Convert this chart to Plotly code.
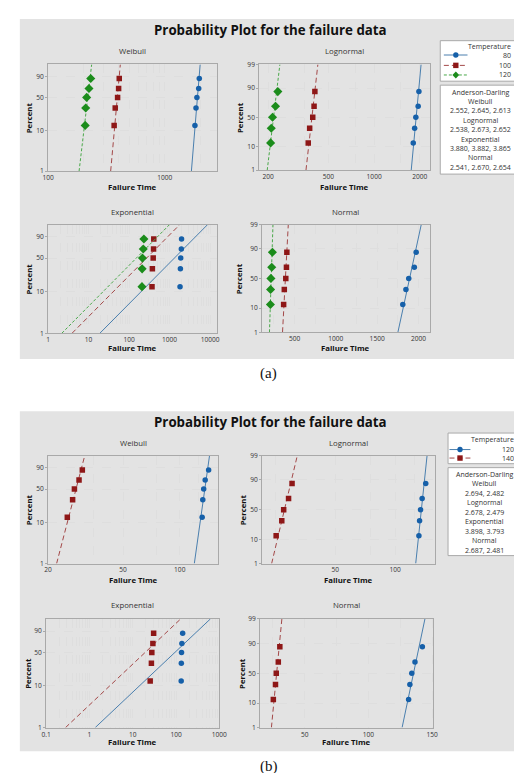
import math
import numpy as np
import plotly.graph_objects as go
from statistics import NormalDist

W, H = 522, 773
FONT = "Open Sans"

# ---------------- data ----------------
percent = [12.96, 31.48, 50.0, 68.52, 87.04]

temps_a = ["80", "100", "120"]
fail_a_80 = [1810, 1848, 1882, 1950, 1972]
fail_a_100 = [368, 376, 394, 402, 407]
fail_a_120 = [208, 210, 214, 224, 232]

temps_b = ["120", "140"]
fail_b_120 = [131.5, 132.5, 134.0, 136.5, 142.3]
fail_b_140 = [25.3, 27.0, 27.6, 29.2, 30.4]

dist_names = ["Weibull", "Lognormal", "Exponential", "Normal"]

ad_a_weibull = [2.552, 2.645, 2.613]
ad_a_lognormal = [2.538, 2.673, 2.652]
ad_a_exponential = [3.880, 3.882, 3.865]
ad_a_normal = [2.541, 2.670, 2.654]
ad_b_weibull = [2.694, 2.482]
ad_b_lognormal = [2.678, 2.479]
ad_b_exponential = [3.898, 3.793]
ad_b_normal = [2.687, 2.481]

pct_ticks_wb = [1, 10, 50, 90]
pct_ticks_nm = [1, 10, 50, 90, 99]

minor_decades_a = [m * 10 ** e for e in range(0, 4) for m in range(2, 10)]
minor_decades_b = [m * 10 ** e for e in range(-1, 3) for m in range(2, 10)]

xlab_a_wb = [100, 1000]
xgrid_a_wb = [200, 300, 400, 500, 600, 700, 800, 900, 2000]
xlab_a_ln = [200, 500, 1000, 2000]
xgrid_a_ln = [350, 750, 1500]
xlab_a_ex = [1, 10, 100, 1000, 10000]
xlab_a_nm = [500, 1000, 1500, 2000]
xgrid_a_nm = [250, 750, 1250, 1750]

xlab_b_wb = [20, 50, 100]
xgrid_b_wb = [35, 75, 125]
xlab_b_ln = [50, 100]
xgrid_b_ln = [25, 75, 125]
xlab_b_ex = [0.1, 1, 10, 100, 1000]
xlab_b_nm = [50, 100, 150]
xgrid_b_nm = [25, 75, 125]

# ---------------- styles ----------------
GREY_BG = "#e3e3e3"
FRAME = "#a9a9a9"
GRID = "#dedede"
TXT = "#333333"
BLUE_M, BLUE_L = "#1660a9", "#4a7fae"
RED_M, RED_L = "#8e1717", "#a34848"
GREEN_M, GREEN_L = "#1b8c1b", "#4aa84a"

group_style = {
    "blue": dict(mc=BLUE_M, lc=BLUE_L, sym="circle", size=5.5, dash="solid"),
    "red": dict(mc=RED_M, lc=RED_L, sym="square", size=5.5, dash="5px,3px"),
    "green": dict(mc=GREEN_M, lc=GREEN_L, sym="diamond", size=7, dash="3px,2px"),
}

nd = NormalDist()


def y_wb(p):
    return math.log(-math.log(1 - p / 100.0))


def y_nm(p):
    return nd.inv_cdf(p / 100.0)


def weibull_mle(t):
    t = np.asarray(t, float)
    lt = np.log(t)
    s = t / t.max()

    def f(k):
        sk = s ** k
        return (sk * lt).sum() / sk.sum() - 1.0 / k - lt.mean()

    lo, hi = 0.05, 3000.0
    for _ in range(200):
        mid = 0.5 * (lo + hi)
        if f(mid) > 0:
            hi = mid
        else:
            lo = mid
    k = 0.5 * (lo + hi)
    lam = t.max() * np.mean(s ** k) ** (1.0 / k)
    return k, lam


def fit_x(dist, t, ys):
    t = np.asarray(t, float)
    if dist == "Weibull":
        k, lam = weibull_mle(t)
        return [lam * math.exp(y / k) for y in ys]
    if dist == "Lognormal":
        mu, sg = np.log(t).mean(), np.log(t).std()
        return [math.exp(mu + sg * y) for y in ys]
    if dist == "Exponential":
        th = t.mean()
        return [th * math.exp(y) for y in ys]
    mu, sd = t.mean(), t.std()
    return [mu + sd * y for y in ys]


def PX(x):
    return x / W


def PY(y):
    return 1 - y / H


groups_a = [(temps_a[0], fail_a_80, "blue"), (temps_a[1], fail_a_100, "red"), (temps_a[2], fail_a_120, "green")]
groups_b = [(temps_b[0], fail_b_120, "blue"), (temps_b[1], fail_b_140, "red")]

subplots = [
    ("Weibull", (35, 209, 52, 160), ("log", [2.0, 3.45], xlab_a_wb, xgrid_a_wb), groups_a, 38, 176, 15),
    ("Lognormal", (252, 427, 52, 159), ("log", [2.243, 3.365], xlab_a_ln, xgrid_a_ln), groups_a, 38, 176, 232),
    ("Exponential", (35, 209, 214, 324), ("log", [0.0, 4.18], xlab_a_ex, minor_decades_a), groups_a, 201, 339, 15),
    ("Normal", (255, 427, 214, 323), ("linear", [108, 2134], xlab_a_nm, xgrid_a_nm), groups_a, 201, 339, 232),
    ("Weibull", (35, 210, 448, 557), ("log", [1.301, 2.205], xlab_b_wb, xgrid_b_wb), groups_b, 435, 574, 15),
    ("Lognormal", (255, 433, 448, 557), ("log", [1.333, 2.2015], xlab_b_ln, xgrid_b_ln), groups_b, 435, 574, 235),
    ("Exponential", (33, 211, 613, 723), ("log", [-1.0, 3.0], xlab_b_ex, minor_decades_b), groups_b, 599, 738, 15),
    ("Normal", (253, 431, 613, 723), ("linear", [15, 151], xlab_b_nm, xgrid_b_nm), groups_b, 599, 738, 235),
]

fig = go.Figure()
layout = dict(width=W, height=H, margin=dict(l=0, r=0, t=0, b=0), paper_bgcolor="white",
              plot_bgcolor="white", showlegend=False, shapes=[], annotations=[])

tickfont = dict(family=FONT, size=6.6, color=TXT)

for i, (dist, (x0, x1, y0, y1), (xtype, xr, xlab, xgrid), groups, ty, xty, ytx) in enumerate(subplots, start=1):
    sfx = "" if i == 1 else str(i)
    tf = y_wb if dist in ("Weibull", "Exponential") else y_nm
    pticks = pct_ticks_wb if dist in ("Weibull", "Exponential") else pct_ticks_nm
    yr = [tf(1), tf(99)]
    xvals = list(xlab) + list(xgrid)
    xtext = [f"{v:g}" for v in xlab] + ["" for _ in xgrid]
    layout["xaxis" + sfx] = dict(
        domain=[PX(x0), PX(x1)], anchor="y" + sfx, type=xtype, range=xr,
        tickmode="array", tickvals=xvals, ticktext=xtext, showgrid=True,
        gridcolor=GRID, griddash="dash", gridwidth=1, showline=True, mirror=True,
        linecolor=FRAME, linewidth=1, ticks="", tickfont=tickfont, zeroline=False,
        fixedrange=True)
    layout["yaxis" + sfx] = dict(
        domain=[PY(y1), PY(y0)], anchor="x" + sfx, type="linear", range=yr,
        tickmode="array", tickvals=[tf(p) for p in pticks], ticktext=[f"{p:g}" for p in pticks],
        showgrid=True, gridcolor=GRID, griddash="dash", gridwidth=1, showline=True, mirror=True,
        linecolor=FRAME, linewidth=1, ticks="outside", ticklen=2, tickcolor=FRAME,
        tickfont=tickfont, zeroline=False, fixedrange=True)
    for name, times, key in groups:
        st = group_style[key]
        fig.add_trace(go.Scatter(
            x=fit_x(dist, times, yr), y=yr, mode="lines", xaxis="x" + sfx, yaxis="y" + sfx,
            line=dict(color=st["lc"], width=1, dash=st["dash"]), hoverinfo="skip", name=name))
        fig.add_trace(go.Scatter(
            x=times, y=[tf(p) for p in percent], mode="markers", xaxis="x" + sfx, yaxis="y" + sfx,
            marker=dict(color=st["mc"], symbol=st["sym"], size=st["size"], line=dict(width=0)), name=name))
    xc = (x0 + x1) / 2
    layout["annotations"] += [
        dict(text=dist, x=PX(xc), y=PY(ty), xref="paper", yref="paper", showarrow=False,
             font=dict(family=FONT, size=7.8, color=TXT), xanchor="center", yanchor="middle"),
        dict(text="<b>Failure Time</b>", x=PX(xc), y=PY(xty), xref="paper", yref="paper", showarrow=False,
             font=dict(family=FONT, size=7.8, color="#111"), xanchor="center", yanchor="middle"),
        dict(text="<b>Percent</b>", x=PX(ytx), y=PY((y0 + y1) / 2), xref="paper", yref="paper",
             showarrow=False, textangle=-90, font=dict(family=FONT, size=7.8, color="#111"),
             xanchor="center", yanchor="middle"),
    ]

for (gx0, gx1, gy0, gy1) in [(6, 521, 6, 350), (6, 521, 403, 747)]:
    layout["shapes"].append(dict(type="rect", xref="paper", yref="paper", layer="below",
                                 x0=PX(gx0), x1=PX(gx1), y0=PY(gy1), y1=PY(gy0),
                                 fillcolor=GREY_BG, line=dict(width=0)))

for ty in (17, 414):
    layout["annotations"].append(dict(text="<b>Probability Plot for the failure data</b>", x=PX(264), y=PY(ty),
                                      xref="paper", yref="paper", showarrow=False, xanchor="center",
                                      yanchor="middle", font=dict(family=FONT, size=13.3, color="#111")))
for cap, cy in (("(a)", 365), ("(b)", 762)):
    layout["annotations"].append(dict(text=cap, x=PX(262), y=PY(cy), xref="paper", yref="paper",
                                      showarrow=False, xanchor="center", yanchor="middle",
                                      font=dict(family="Liberation Serif", size=15, color="#111")))


def box(x0, x1, y0, y1):
    return dict(type="rect", xref="paper", yref="paper", layer="above", x0=PX(x0), x1=PX(x1),
                y0=PY(y1), y1=PY(y0), fillcolor="white", line=dict(color=FRAME, width=1))


def sample(xl, xr, xm, yc, key):
    st = group_style[key]
    shp = [dict(type="line", xref="paper", yref="paper", layer="above", x0=PX(xl), x1=PX(xr),
                y0=PY(yc), y1=PY(yc), line=dict(color=st["lc"], width=1, dash=st["dash"]))]
    r = st["size"] / 2.0
    base = dict(xref="paper", yref="paper", layer="above", fillcolor=st["mc"], line=dict(width=0))
    if st["sym"] == "circle":
        shp.append(dict(type="circle", x0=PX(xm - r), x1=PX(xm + r), y0=PY(yc + r), y1=PY(yc - r), **base))
    elif st["sym"] == "square":
        shp.append(dict(type="rect", x0=PX(xm - r), x1=PX(xm + r), y0=PY(yc + r), y1=PY(yc - r), **base))
    else:
        path = (f"M {PX(xm)},{PY(yc - r)} L {PX(xm + r)},{PY(yc)} L {PX(xm)},{PY(yc + r)} "
                f"L {PX(xm - r)},{PY(yc)} Z")
        shp.append(dict(type="path", path=path, **base))
    return shp


def txt(t, x, y, anchor="center", size=7.0):
    return dict(text=t, x=PX(x), y=PY(y), xref="paper", yref="paper", showarrow=False,
                xanchor=anchor, yanchor="middle", font=dict(family=FONT, size=size, color=TXT))


legend_specs = [
    ((438, 521, 28, 69), 34, [42.5, 53, 62.7], 513, (441.7, 466, 454), groups_a,
     (438, 521, 73, 163), 80, 9.5, [ad_a_weibull, ad_a_lognormal, ad_a_exponential, ad_a_normal]),
    ((446, 521, 425, 456), 431.7, [441.7, 450.3], 515.7, (447.5, 469, 458.3), groups_b,
     (446, 521, 460, 549), 466.7, 9.6, [ad_b_weibull, ad_b_lognormal, ad_b_exponential, ad_b_normal]),
]

for (b1, tty, rows, txr, (sl, sr, sm), groups, b2, l0, dl, ads) in legend_specs:
    layout["shapes"].append(box(*b1))
    layout["annotations"].append(txt("Temperature", txr, tty, "right"))
    for (name, _, key), ry in zip(groups, rows):
        layout["shapes"] += sample(sl, sr, sm, ry, key)
        layout["annotations"].append(txt(name, txr, ry, "right"))
    layout["shapes"].append(box(*b2))
    lines = ["Anderson-Darling"]
    for dn, vals in zip(dist_names, ads):
        lines += [dn, ", ".join(f"{v:.3f}" for v in vals)]
    cx = (b2[0] + b2[1]) / 2
    for j, ln in enumerate(lines):
        layout["annotations"].append(txt(ln, cx, l0 + j * dl, "center"))

fig.update_layout(**layout)
fig.write_html("out.html")
